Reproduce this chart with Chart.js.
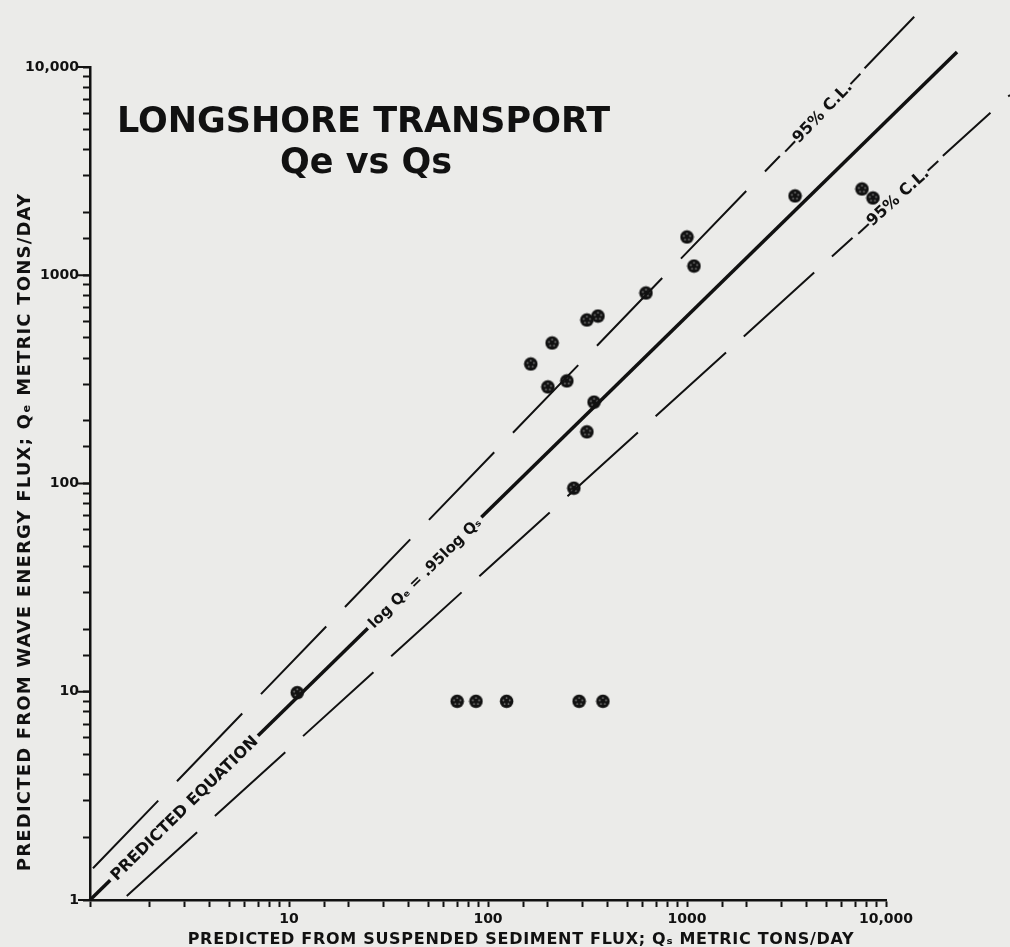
<!DOCTYPE html>
<html>
<head>
<meta charset="utf-8">
<script src="https://cdn.jsdelivr.net/npm/chart.js@4/dist/chart.umd.min.js"></script>
<style>
  html, body { margin: 0; padding: 0; background: #ebebe9; }
</style>
</head>
<body>
<canvas id="longshoreChart" width="1010" height="947"></canvas>
<script>
// Longshore transport: Qs (suspended sediment flux) vs Qe (wave energy flux), metric tons/day
const qsValues = [11, 70, 87, 124, 287, 378, 270, 314, 341, 200, 249, 164, 210, 314, 357, 622, 1000, 1084, 3490, 7570, 8600];
const qeValues = [9.9, 9, 9, 9, 9, 9, 95, 177, 246, 291, 311, 375, 473, 610, 637, 822, 1527, 1107, 2404, 2596, 2350];

// predicted equation and 95% confidence limits (end points)
const predictedQs = [1, 22750];
const predictedQe = [1, 11800];
const upperQs = [1.035, 14000];
const upperQe = [1.42, 17600];
const lowerQs = [1.53, 42000];
const lowerQe = [1.045, 7340];

const decadeTicks = [1, 10, 100, 1000, 10000];
const decadeLabels = ["1", "10", "100", "1000", "10,000"];

const PAPER = "#ebebe9";
const INK = "#111111";
const FONT = "'DejaVu Sans', sans-serif";

function toPoints(xs, ys) {
  return xs.map((x, i) => ({ x: x, y: ys[i] }));
}

function decadeLabel(value, showOne) {
  const i = decadeTicks.indexOf(Number(value));
  if (i < 0) return "";
  if (i === 0 && !showOne) return "";
  return decadeLabels[i];
}

// black disc with light specks, like the circled-asterisk symbol of the plot
function makeMarker() {
  const c = document.createElement("canvas");
  c.width = 15;
  c.height = 15;
  const g = c.getContext("2d");
  g.fillStyle = INK;
  g.beginPath();
  g.arc(7.5, 7.5, 6.8, 0, Math.PI * 2);
  g.fill();
  g.fillStyle = "#7d7d7d";
  for (let k = 0; k < 5; k++) {
    const a = -Math.PI / 2 + (k * 2 * Math.PI) / 5;
    g.beginPath();
    g.arc(7.5 + 3.3 * Math.cos(a), 7.5 + 3.3 * Math.sin(a), 0.9, 0, Math.PI * 2);
    g.fill();
  }
  return c;
}

function qeOnLine(xs, ys, qs) {
  const t = (Math.log10(qs) - Math.log10(xs[0])) / (Math.log10(xs[1]) - Math.log10(xs[0]));
  return Math.pow(10, Math.log10(ys[0]) + t * (Math.log10(ys[1]) - Math.log10(ys[0])));
}

function drawLineLabel(chart, text, xs, ys, atQs, font, pad) {
  const ctx = chart.ctx;
  const sx = chart.scales.x;
  const sy = chart.scales.y;
  const px = sx.getPixelForValue(atQs);
  const py = sy.getPixelForValue(qeOnLine(xs, ys, atQs));
  const angle = Math.atan2(
    sy.getPixelForValue(ys[1]) - sy.getPixelForValue(ys[0]),
    sx.getPixelForValue(xs[1]) - sx.getPixelForValue(xs[0])
  );
  ctx.save();
  ctx.translate(px, py);
  ctx.rotate(angle);
  ctx.font = font;
  const w = ctx.measureText(text).width;
  ctx.fillStyle = PAPER;
  ctx.fillRect(-w / 2 - pad, -9, w + pad * 2, 18);
  ctx.fillStyle = INK;
  ctx.textAlign = "center";
  ctx.textBaseline = "middle";
  ctx.fillText(text, 0, 1);
  ctx.restore();
}

const paperPlugin = {
  id: "paper",
  beforeDraw(chart) {
    const ctx = chart.ctx;
    ctx.save();
    ctx.fillStyle = PAPER;
    ctx.fillRect(0, 0, chart.width, chart.height);
    ctx.restore();
  },
};

const labelsPlugin = {
  id: "plotLabels",
  afterDatasetsDraw(chart) {
    drawLineLabel(chart, "PREDICTED EQUATION", predictedQs, predictedQe, 2.97, "bold 16px " + FONT, 4);
    drawLineLabel(chart, "log Qₑ = .95log Qₛ", predictedQs, predictedQe, 48, "bold 15px " + FONT, 4);
    drawLineLabel(chart, "—95% C.L.—", upperQs, upperQe, 4780, "bold 16px " + FONT, 6);
    drawLineLabel(chart, "—95% C.L.—", lowerQs, lowerQe, 11450, "bold 16px " + FONT, 6);
  },
  afterDraw(chart) {
    const ctx = chart.ctx;
    const sy = chart.scales.y;
    const left = chart.chartArea.left;
    ctx.save();
    // longer marks at each decade of the y axis
    ctx.strokeStyle = INK;
    ctx.lineWidth = 2;
    decadeTicks.forEach((v) => {
      const y = sy.getPixelForValue(v);
      ctx.beginPath();
      ctx.moveTo(left - 12, y);
      ctx.lineTo(left, y);
      ctx.stroke();
    });

    ctx.fillStyle = INK;
    ctx.textBaseline = "alphabetic";
    ctx.textAlign = "left";
    ctx.font = "bold 35px " + FONT;
    ctx.fillText("LONGSHORE TRANSPORT", 117, 132, 495);
    ctx.textAlign = "center";
    ctx.fillText("Qe vs Qs", 366, 173);

    // axis titles
    ctx.textBaseline = "middle";
    ctx.font = "bold 16px " + FONT;
    ctx.letterSpacing = "0.7px";
    ctx.fillText("PREDICTED FROM SUSPENDED SEDIMENT FLUX; Qₛ METRIC TONS/DAY", 521, 940, 667);
    ctx.translate(25, 532);
    ctx.rotate(-Math.PI / 2);
    ctx.font = "bold 18px " + FONT;
    ctx.letterSpacing = "1.2px";
    ctx.fillText("PREDICTED FROM WAVE ENERGY FLUX; Qₑ METRIC TONS/DAY", 0, 0, 681);
    ctx.letterSpacing = "0px";
    ctx.restore();
  },
};

const marker = makeMarker();

const config = {
  type: "scatter",
  data: {
    datasets: [
      {
        label: "predicted",
        data: toPoints(predictedQs, predictedQe),
        showLine: true,
        borderColor: INK,
        borderWidth: 3.5,
        pointRadius: 0,
        clip: false,
      },
      {
        label: "upper 95% C.L.",
        data: toPoints(upperQs, upperQe),
        showLine: true,
        borderColor: INK,
        borderWidth: 2,
        borderDash: [94, 27],
        pointRadius: 0,
        clip: false,
      },
      {
        label: "lower 95% C.L.",
        data: toPoints(lowerQs, lowerQe),
        showLine: true,
        borderColor: INK,
        borderWidth: 2,
        borderDash: [95, 24],
        pointRadius: 0,
        clip: false,
      },
      {
        label: "observed",
        data: toPoints(qsValues, qeValues),
        pointStyle: marker,
        pointRadius: 7,
        clip: false,
      },
    ],
  },
  options: {
    responsive: false,
    animation: false,
    events: [],
    layout: { padding: { top: 67, right: 124, left: 0, bottom: 0 } },
    plugins: {
      legend: { display: false },
      tooltip: { enabled: false },
    },
    scales: {
      x: {
        type: "logarithmic",
        min: 1,
        max: 10000,
        afterFit(scale) {
          scale.height = 47;
        },
        border: { display: true, color: INK, width: 2.5 },
        grid: { drawOnChartArea: false, drawTicks: true, tickLength: 7, tickColor: INK, tickWidth: 2 },
        ticks: {
          autoSkip: false,
          maxRotation: 0,
          padding: 4,
          color: INK,
          font: { family: FONT, size: 14, weight: "bold" },
          callback: (value) => decadeLabel(value, false),
        },
      },
      y: {
        type: "logarithmic",
        min: 1,
        max: 10000,
        afterFit(scale) {
          scale.width = 90;
        },
        border: { display: true, color: INK, width: 2.5 },
        grid: { drawOnChartArea: false, drawTicks: true, tickLength: 7, tickColor: INK, tickWidth: 2 },
        ticks: {
          autoSkip: false,
          padding: 4,
          color: INK,
          font: { family: FONT, size: 14, weight: "bold" },
          callback: (value) => decadeLabel(value, true),
        },
      },
    },
  },
  plugins: [paperPlugin, labelsPlugin],
};

const longshoreChart = new Chart(document.querySelector("#longshoreChart"), config);
</script>
</body>
</html>
